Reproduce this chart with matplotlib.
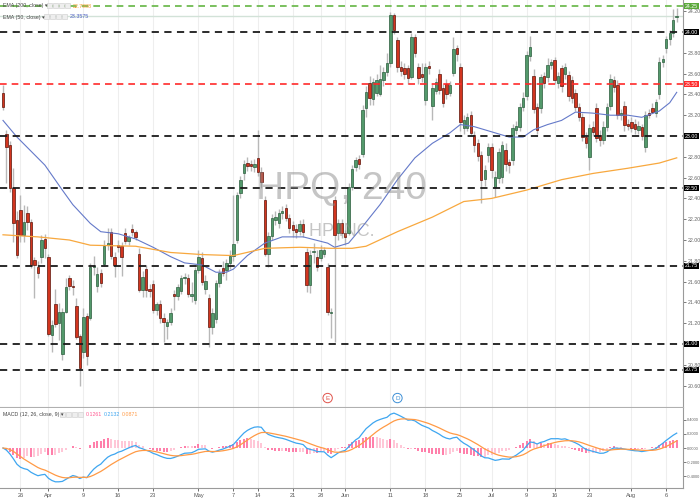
import numpy as np
import pandas as pd
import matplotlib.pyplot as plt
import matplotlib.transforms as mtransforms
from matplotlib.patches import Rectangle
from matplotlib import font_manager

# HPQ 4h candles
opens = [
    23.41, 23.02, 22.91, 22.50, 22.19, 22.29, 22.05, 22.26, 22.17, 21.81,
    21.74, 21.84, 22.01, 21.84, 21.09, 21.38, 21.20, 20.90, 21.31, 21.63,
    21.56, 21.37, 21.08, 20.92, 21.27, 21.25, 21.74, 21.56, 21.68, 21.77,
    21.95, 22.08, 21.84, 21.95, 21.94, 22.07, 21.99, 22.11, 22.08, 21.87,
    21.52, 21.72, 21.53, 21.58, 21.33, 21.38, 21.25, 21.17, 21.21, 21.48,
    21.46, 21.51, 21.63, 21.63, 21.46, 21.42, 21.71, 21.83, 21.53, 21.44,
    21.16, 21.24, 21.59, 21.73, 21.71, 21.78, 21.85, 22.00, 22.45, 22.64,
    22.74, 22.73, 22.70, 22.79, 22.65, 22.38, 21.87, 22.04, 22.19, 22.16,
    22.26, 22.31, 22.21, 22.14, 22.11, 22.09, 22.15, 21.88, 21.57, 21.88,
    21.84, 21.83, 21.87, 21.74, 21.30, 22.38, 22.07, 22.16, 22.07, 22.07,
    22.51, 22.70, 22.78, 22.83, 23.27, 23.51, 23.36, 23.41, 23.40, 23.54,
    23.62, 23.70, 24.16, 23.92, 23.66, 23.65, 23.65, 23.57, 23.95, 23.66,
    23.60, 23.35, 23.67, 23.29, 23.43, 23.60, 23.46, 23.50, 23.41, 23.61,
    23.85, 23.66, 23.08, 23.08, 23.20, 23.01, 22.93, 22.82, 22.59, 22.82,
    22.89, 22.51, 22.60, 22.61, 22.87, 22.75, 22.77, 23.06, 23.09, 23.28,
    23.38, 23.77, 23.58, 23.28, 23.27, 23.58, 23.57, 23.68, 23.73, 23.51,
    23.65, 23.60, 23.59, 23.54, 23.41, 23.28, 23.18, 22.99, 22.80, 23.09,
    23.27, 23.01, 22.96, 23.09, 23.29, 23.54, 23.49, 23.20, 23.29, 23.12,
    23.13, 23.12, 23.06, 23.09, 22.89, 23.22, 23.27, 23.22, 23.40, 23.71,
    23.85, 23.93, 23.99, 24.14,
]
highs = [
    23.49, 23.06, 22.95, 22.69, 22.28, 22.43, 22.34, 22.33, 22.20, 21.84,
    21.80, 22.05, 22.06, 21.87, 21.23, 21.53, 21.39, 21.35, 21.63, 21.66,
    21.62, 21.44, 21.10, 21.35, 21.30, 21.78, 21.85, 21.74, 21.72, 22.00,
    22.12, 22.12, 21.88, 22.00, 21.98, 22.12, 22.05, 22.15, 22.10, 21.92,
    21.70, 21.76, 21.58, 21.62, 21.40, 21.42, 21.30, 21.24, 21.35, 21.52,
    21.58, 21.66, 21.68, 21.67, 21.60, 21.74, 21.90, 21.88, 21.66, 21.48,
    21.35, 21.62, 21.72, 21.80, 21.82, 21.90, 22.43, 22.46, 22.62, 22.77,
    22.80, 22.77, 22.78, 23.06, 22.70, 22.42, 22.08, 22.25, 22.28, 22.30,
    22.33, 22.35, 22.25, 22.18, 22.15, 22.19, 22.20, 21.92, 21.90, 21.97,
    21.90, 21.95, 21.93, 21.78, 21.35, 22.42, 22.20, 22.20, 22.10, 22.55,
    22.72, 22.80, 22.82, 23.30, 23.48, 23.58, 23.56, 23.60, 23.68, 23.66,
    23.80, 24.19, 24.18, 23.95, 23.72, 23.70, 23.68, 23.99, 23.98, 23.70,
    23.70, 23.70, 23.72, 23.50, 23.56, 23.64, 23.50, 23.55, 23.53, 23.95,
    23.88, 23.70, 23.20, 23.22, 23.24, 23.05, 22.97, 22.86, 22.72, 22.93,
    22.93, 22.66, 22.88, 22.95, 22.93, 22.78, 23.12, 23.14, 23.32, 23.42,
    23.82, 23.96, 23.64, 23.32, 23.60, 23.62, 23.75, 23.74, 23.76, 23.62,
    23.68, 23.70, 23.63, 23.58, 23.45, 23.32, 23.22, 23.04, 23.12, 23.14,
    23.32, 23.06, 23.14, 23.32, 23.60, 23.58, 23.54, 23.26, 23.34, 23.16,
    23.18, 23.16, 23.14, 23.12, 23.24, 23.26, 23.32, 23.36, 23.76, 23.78,
    23.96, 24.02, 24.22, 24.23,
]
lows = [
    23.25, 22.55, 22.46, 21.98, 21.83, 21.98, 21.98, 22.10, 21.73, 21.44,
    21.63, 21.78, 21.83, 21.08, 20.92, 21.16, 21.04, 20.85, 21.30, 21.52,
    21.47, 21.05, 20.60, 20.87, 20.80, 21.23, 21.66, 21.50, 21.55, 21.75,
    21.90, 21.82, 21.64, 21.88, 21.65, 21.96, 21.95, 22.04, 22.00, 21.50,
    21.45, 21.45, 21.45, 21.30, 21.28, 21.20, 21.02, 21.05, 21.18, 21.33,
    21.42, 21.48, 21.58, 21.45, 21.40, 21.38, 21.68, 21.57, 21.48, 20.97,
    21.10, 21.20, 21.55, 21.65, 21.62, 21.72, 21.80, 21.97, 22.40, 22.58,
    22.66, 22.66, 22.65, 22.62, 22.50, 21.85, 21.74, 22.00, 22.14, 22.12,
    22.20, 22.18, 22.07, 22.03, 22.02, 22.05, 22.03, 21.50, 21.49, 21.78,
    21.70, 21.80, 21.84, 21.28, 21.06, 21.02, 22.00, 22.02, 21.95, 22.05,
    22.48, 22.66, 22.68, 22.80, 23.18, 23.30, 23.30, 23.38, 23.38, 23.48,
    23.58, 23.66, 23.98, 23.62, 23.58, 23.55, 23.50, 23.55, 23.76, 23.50,
    23.52, 23.30, 23.60, 23.15, 23.40, 23.40, 23.28, 23.36, 23.38, 23.58,
    23.72, 23.05, 23.02, 23.05, 23.00, 22.85, 22.76, 22.36, 22.52, 22.75,
    22.60, 22.41, 22.55, 22.55, 22.66, 22.64, 22.72, 23.02, 23.05, 23.24,
    23.35, 23.72, 23.22, 23.02, 23.22, 23.46, 23.52, 23.64, 23.50, 23.46,
    23.42, 23.55, 23.34, 23.32, 23.24, 23.14, 22.95, 22.88, 22.67, 23.00,
    22.94, 22.90, 22.92, 23.05, 23.25, 23.42, 23.16, 23.15, 23.05, 23.06,
    23.04, 23.02, 23.02, 22.96, 22.85, 23.17, 23.22, 23.18, 23.36, 23.66,
    23.80, 23.88, 23.95, 24.10,
]
closes = [
    23.28, 22.89, 22.50, 22.16, 21.86, 22.05, 22.17, 22.17, 21.76, 21.76,
    21.68, 22.00, 21.92, 21.10, 21.18, 21.19, 21.31, 21.31, 21.55, 21.56,
    21.55, 21.07, 20.77, 21.26, 20.88, 21.74, 21.75, 21.67, 21.59, 21.94,
    21.97, 21.85, 21.76, 21.93, 21.84, 21.99, 22.03, 22.08, 22.03, 21.52,
    21.64, 21.52, 21.51, 21.33, 21.38, 21.25, 21.21, 21.21, 21.30, 21.46,
    21.55, 21.63, 21.64, 21.48, 21.48, 21.71, 21.84, 21.60, 21.61, 21.16,
    21.30, 21.59, 21.68, 21.68, 21.78, 21.85, 21.96, 22.43, 22.58, 22.73,
    22.71, 22.71, 22.73, 22.65, 22.56, 21.87, 22.04, 22.21, 22.22, 22.26,
    22.28, 22.21, 22.12, 22.10, 22.08, 22.15, 22.08, 21.57, 21.86, 21.89,
    21.74, 21.90, 21.90, 21.31, 21.31, 22.05, 22.16, 22.07, 22.03, 22.51,
    22.68, 22.77, 22.73, 23.25, 23.42, 23.37, 23.52, 23.54, 23.55, 23.62,
    23.70, 24.16, 24.02, 23.66, 23.63, 23.60, 23.56, 23.95, 23.80, 23.56,
    23.57, 23.66, 23.65, 23.46, 23.52, 23.44, 23.32, 23.40, 23.49, 23.84,
    23.79, 23.13, 23.15, 23.18, 23.03, 22.91, 22.81, 22.58, 22.67, 22.89,
    22.67, 22.61, 22.85, 22.91, 22.73, 22.72, 23.08, 23.10, 23.28, 23.37,
    23.78, 23.86, 23.26, 23.06, 23.57, 23.51, 23.68, 23.71, 23.54, 23.58,
    23.48, 23.66, 23.38, 23.37, 23.28, 23.18, 22.99, 22.93, 23.08, 23.04,
    22.98, 22.96, 23.09, 23.28, 23.55, 23.47, 23.20, 23.22, 23.11, 23.10,
    23.08, 23.07, 23.10, 23.00, 23.20, 23.20, 23.23, 23.33, 23.71, 23.74,
    23.93, 23.99, 24.12, 24.15,
]

# moving averages (bar index, value)
ema50_idx = [0, 4, 12, 17, 20, 25, 28, 33, 38, 43, 48, 52, 57, 61, 64, 66, 70, 75,
             80, 86, 93, 95, 99, 103, 108, 113, 118, 123, 128, 131, 135, 140, 145,
             149, 152, 156, 160, 164, 169, 174, 179, 183, 188, 191, 193]
ema50_val = [23.15, 22.99, 22.72, 22.48, 22.34, 22.16, 22.08, 22.06, 22.01, 21.93,
             21.84, 21.78, 21.76, 21.69, 21.69, 21.72, 21.85, 21.97, 22.03, 22.03,
             21.97, 21.93, 21.97, 22.13, 22.34, 22.58, 22.79, 22.93, 23.03, 23.11,
             23.09, 23.04, 22.99, 22.99, 23.06, 23.11, 23.15, 23.23, 23.22, 23.20,
             23.20, 23.18, 23.24, 23.32, 23.42]
ema200_idx = [0, 10, 19, 25, 38, 48, 57, 66, 75, 85, 94, 100, 104, 113, 123, 132,
              140, 150, 160, 169, 179, 188, 193]
ema200_val = [22.05, 22.03, 22.00, 21.95, 21.94, 21.88, 21.86, 21.85, 21.92, 21.93,
              21.92, 21.92, 21.94, 22.08, 22.22, 22.37, 22.40, 22.48, 22.58, 22.64,
              22.69, 22.74, 22.79]

levels = [24.00, 23.00, 22.50, 21.75, 21.00, 20.75]
level_red = 23.50
level_green = 24.25
last_price = 24.15

price_ticks = [20.6, 20.8, 21.0, 21.2, 21.4, 21.6, 21.8, 22.0, 22.2, 22.4, 22.6,
               22.8, 23.0, 23.2, 23.4, 23.6, 23.8, 24.0, 24.2]
macd_ticks = [-0.4, -0.2, 0.0, 0.2, 0.4]

tick_idx = [5, 13, 23, 33, 43, 56, 66, 73, 83, 91, 98, 111, 121, 131, 140, 150,
            158, 168, 180, 190]
tick_lbl = ["26", "Apr", "9", "16", "23", "May", "7", "14", "21", "28", "Jun", "11",
            "18", "25", "Jul", "9", "16", "23", "Aug", "6"]

events_idx = [93, 113]
events_lbl = ["E", "D"]

# pick a narrow UI font if one is installed
names = {f.name for f in font_manager.fontManager.ttflist}
narrow = "Liberation Sans Narrow" in names
ui_font = "Liberation Sans Narrow" if narrow else "Liberation Sans"
plt.rcParams["font.family"] = [ui_font, "DejaVu Sans"]
fs = 4.3 if narrow else 3.8

W, H = 700, 498
fig = plt.figure(figsize=(W / 100, H / 100), dpi=100)
ax = fig.add_axes([0, 1 - 407 / H, 683 / W, 407 / H])
ax2 = fig.add_axes([0, 1 - 488 / H, 683 / W, 80 / H], sharex=ax)

n = len(closes)
x = np.arange(n)
o = np.array(opens)
c = np.array(closes)
up = c >= o

for a in (ax, ax2):
    for t in tick_idx:
        a.axvline(t, color="#eeeeee", lw=0.8, zorder=0)

# candles
ax.vlines(x, lows, highs, color="#b8b8b8", lw=1, zorder=2)
body_lo = np.minimum(o, c)
body_h = np.maximum(np.abs(c - o), 0.012)
ax.bar(x[up], body_h[up], bottom=body_lo[up], width=0.7, color="#53996b",
       edgecolor="#2c5e3e", lw=0.5, zorder=3)
ax.bar(x[~up], body_h[~up], bottom=body_lo[~up], width=0.7, color="#d2351f",
       edgecolor="#5c140a", lw=0.5, zorder=3)

ax.plot(ema50_idx, ema50_val, color="#6479c9", lw=0.8, zorder=4)
ax.plot(ema200_idx, ema200_val, color="#f8a83e", lw=0.9, zorder=4)

for lv in levels:
    ax.axhline(lv, color="#1a1a1a", lw=1.3, ls=(0, (4, 3)), zorder=5)
ax.axhline(level_red, color="#ff2a2a", lw=1.2, ls=(0, (4, 3)), zorder=5)
ax.axhline(level_green, color="#64b543", lw=1.2, ls=(0, (4, 3)), zorder=5)
ax.axhline(last_price, color="#d2e2d8", lw=1.0, zorder=1)

ax.set_xlim(-0.86, 194.8)
ax.set_ylim(20.394, 24.308)

# watermark
ax.text(0.5, 0.535, "HPQ, 240", transform=ax.transAxes, ha="center", va="center",
        fontsize=33 if narrow else 28, color="#8c8c8c", alpha=0.5, zorder=6)
ax.text(0.5, 0.43, "HP INC.", transform=ax.transAxes, ha="center", va="center",
        fontsize=15 if narrow else 13, color="#8c8c8c", alpha=0.5, zorder=6)

# event markers
ev_colors = {"E": "#e0524a", "D": "#3d8fd6"}
ev_tr = mtransforms.blended_transform_factory(ax.transData, ax.transAxes)
for ei, el in zip(events_idx, events_lbl):
    ax.text(ei, 0.022, el, transform=ev_tr, ha="center", va="center", fontsize=4.5,
            color=ev_colors[el], zorder=7,
            bbox=dict(boxstyle="circle,pad=0.35", fc="white", ec=ev_colors[el], lw=0.7))

# right price scale (labels under the level boxes are hidden, as on the chart)
boxed = [round(v, 2) for v in levels]
ax.yaxis.tick_right()
ax.set_yticks(price_ticks)
ax.set_yticklabels(["" if round(v, 2) in boxed else f"{v:.2f}" for v in price_ticks])
ax.tick_params(axis="y", labelsize=fs, colors="#666666", length=2, width=0.6, pad=1.2)
ax.tick_params(axis="x", bottom=False, labelbottom=False)
for s in ("left", "top"):
    ax.spines[s].set_visible(False)
ax.spines["right"].set_color("#9a9a9a")
ax.spines["bottom"].set_color("#b0b0b0")

tr = mtransforms.blended_transform_factory(ax.transAxes, ax.transData)
box_items = [(lv, "black") for lv in levels] + [(level_red, "#ff2a2a"), (level_green, "#5aa83a")]
for lv, col in box_items:
    ax.text(1.003, lv, f"{lv:.2f}", transform=tr, ha="left", va="center", fontsize=fs,
            color="white", zorder=10, clip_on=False,
            bbox=dict(boxstyle="square,pad=0.15", fc=col, ec="none"))

# MACD pane
s = pd.Series(closes)
macd = s.ewm(span=12, adjust=False).mean() - s.ewm(span=26, adjust=False).mean()
signal = macd.ewm(span=9, adjust=False).mean()
hist = (macd - signal).values
prev = np.concatenate([[0.0], hist[:-1]])
strong = np.where(hist >= 0, hist > prev, hist < prev)
hcol = np.where(strong, "#ff5a92", "#ffb6cc")
ax2.vlines(x, 0, hist, colors=hcol, lw=1.1, zorder=2)
ax2.plot(x, macd.values, color="#3ea6f0", lw=0.9, zorder=3)
ax2.plot(x, signal.values, color="#ff9a45", lw=0.9, zorder=3)
ax2.set_ylim(-0.571, 0.571)
ax2.yaxis.tick_right()
ax2.set_yticks(macd_ticks)
ax2.set_yticklabels([f"{v:.4f}" for v in macd_ticks])
ax2.tick_params(axis="y", labelsize=fs - 0.9, colors="#666666", length=2, width=0.6, pad=0.8)
ax2.set_xticks(tick_idx)
ax2.set_xticklabels(tick_lbl)
ax2.tick_params(axis="x", labelsize=fs + 0.3, colors="#555555", length=2, width=0.6, pad=1.5)
for s_ in ("left", "top"):
    ax2.spines[s_].set_visible(False)
ax2.spines["right"].set_color("#9a9a9a")
ax2.spines["bottom"].set_color("#9a9a9a")


# legends
def legend_row(xp, yp, label, icon_x):
    fig.text(xp / W, 1 - yp / H, label, fontsize=fs, color="#444444", va="center")
    for k in range(4):
        fig.add_artist(Rectangle(((icon_x + k * 6) / W, 1 - (yp + 2.5) / H), 5 / W, 5 / H,
                                 transform=fig.transFigure, fc="#eeeeee", ec="#cccccc", lw=0.4))


legend_row(3, 6, "EMA (200, close) \u25be", 47)
fig.text(73 / W, 1 - 6 / H, "22.7988", fontsize=fs, color="#f59a2b", va="center")
legend_row(3, 17, "EMA (50, close) \u25be", 44)
fig.text(70 / W, 1 - 17 / H, "23.3575", fontsize=fs, color="#4a5fc0", va="center")
legend_row(3, 414, "MACD (12, 26, close, 9) \u25be", 60)
fig.text(86 / W, 1 - 414 / H, "0.1261", fontsize=fs, color="#ff5a92", va="center")
fig.text(104 / W, 1 - 414 / H, "0.2132", fontsize=fs, color="#3ea6f0", va="center")
fig.text(122 / W, 1 - 414 / H, "0.0871", fontsize=fs, color="#ff9a45", va="center")

fig.savefig("out.png", dpi=100)
